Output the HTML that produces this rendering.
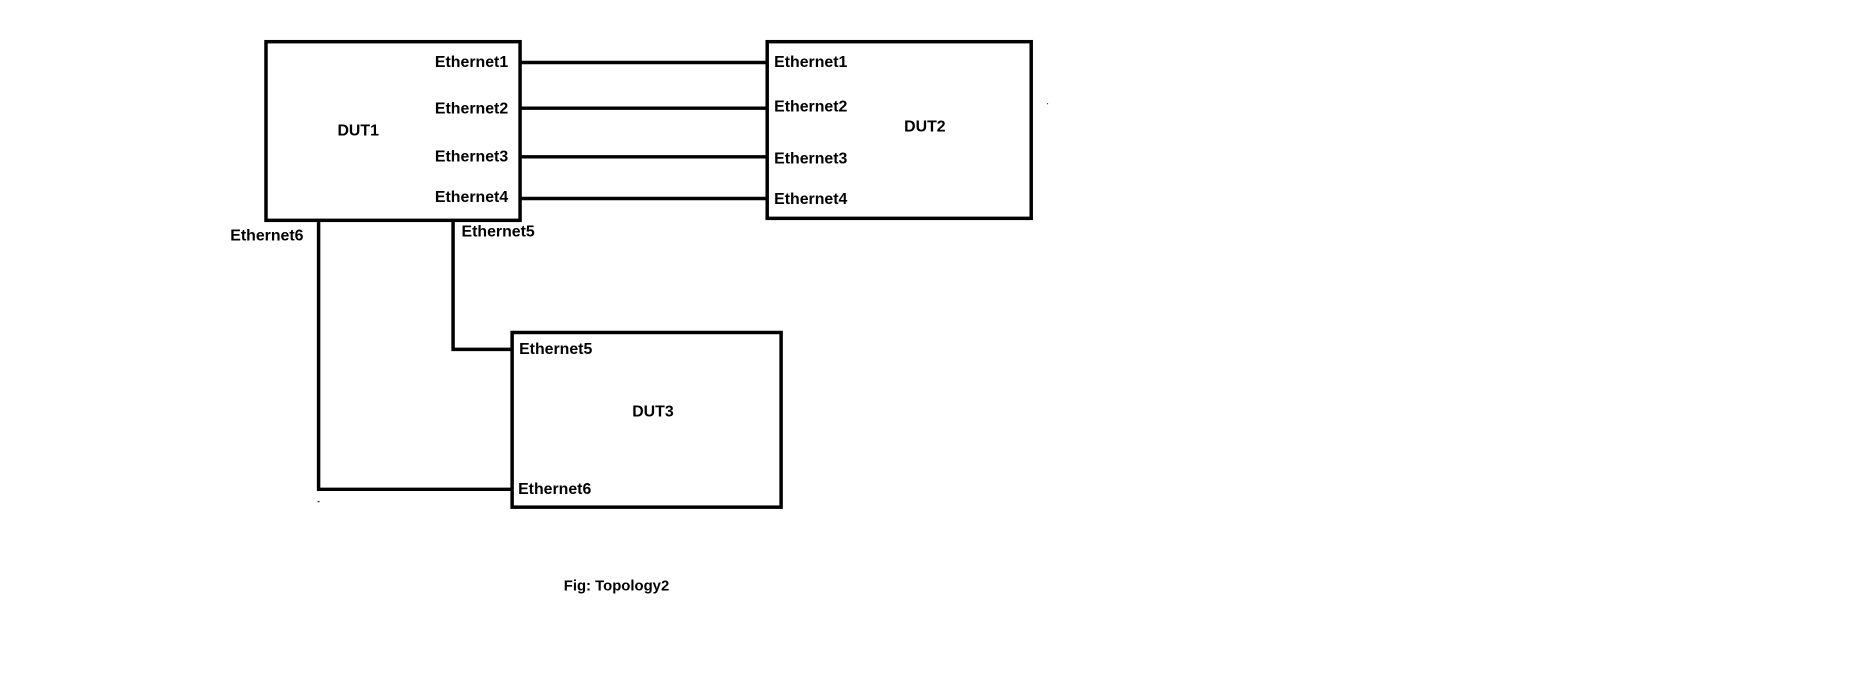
<!DOCTYPE html>
<html><head><style>
html,body{margin:0;padding:0;background:#fff;}
svg{display:block;}
text{font-family:"Liberation Sans",sans-serif;font-weight:bold;font-size:16px;fill:#000;}
</style></head><body>
<svg width="1850" height="690" viewBox="0 0 1850 690" xmlns="http://www.w3.org/2000/svg">
<g transform="scale(0.9925)">
<g fill="none" stroke="#000" stroke-width="3.5">
<rect x="268" y="42" width="256" height="180"/>
<rect x="773" y="42" width="266" height="178"/>
<rect x="516" y="335" width="271" height="176"/>
<line x1="524" y1="63" x2="773" y2="63"/>
<line x1="524" y1="109" x2="773" y2="109"/>
<line x1="524" y1="158" x2="773" y2="158"/>
<line x1="524" y1="200" x2="773" y2="200"/>
<polyline points="456.5,222 456.5,352 516,352"/>
<polyline points="321,222 321,493 516,493"/>
</g>
<g dominant-baseline="central">
<text x="512" y="63" text-anchor="end">Ethernet1</text>
<text x="512" y="110" text-anchor="end">Ethernet2</text>
<text x="512" y="158" text-anchor="end">Ethernet3</text>
<text x="512" y="199" text-anchor="end">Ethernet4</text>
<text x="340" y="132">DUT1</text>
<text x="780" y="63">Ethernet1</text>
<text x="780" y="108">Ethernet2</text>
<text x="780" y="160">Ethernet3</text>
<text x="780" y="201">Ethernet4</text>
<text x="911" y="128">DUT2</text>
<text x="232" y="238">Ethernet6</text>
<text x="465" y="234">Ethernet5</text>
<text x="523" y="352">Ethernet5</text>
<text x="637" y="415">DUT3</text>
<text x="522" y="493">Ethernet6</text>
<text x="568" y="591" style="font-size:15px">Fig: Topology2</text>
</g>
<rect x="1055" y="104" width="1" height="1" fill="#000"/>
<rect x="320" y="505" width="2" height="1" fill="#000"/>
</g>
</svg>
</body></html>
